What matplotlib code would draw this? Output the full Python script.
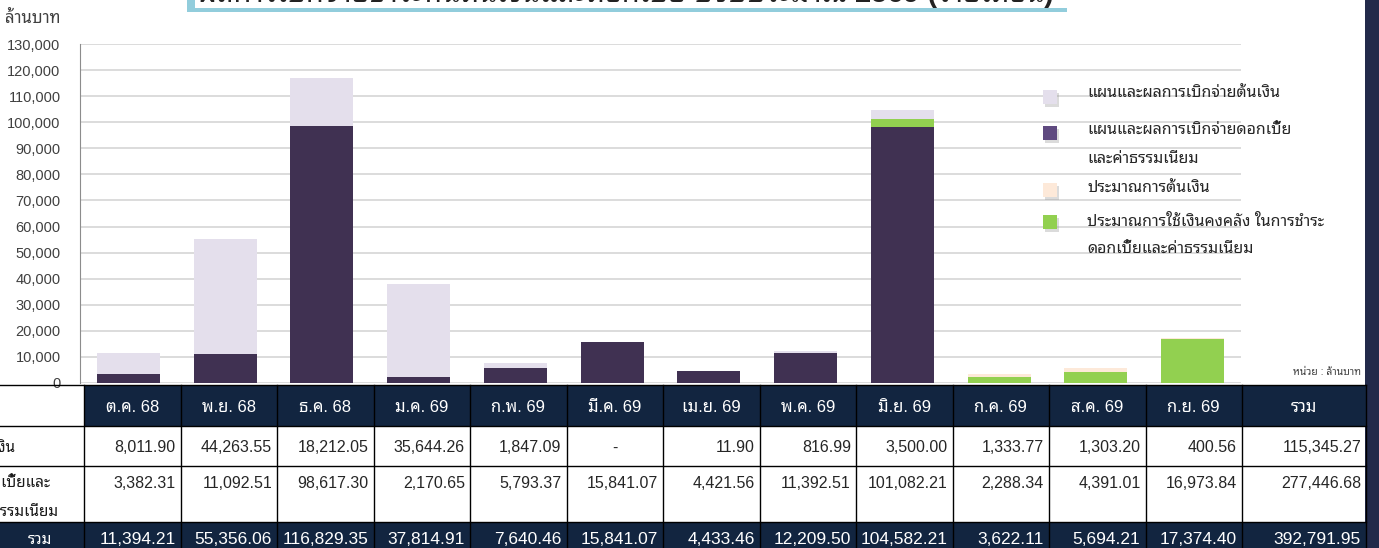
import numpy as np
import matplotlib
matplotlib.use('Agg')
from matplotlib import pyplot as plt
from matplotlib import font_manager
from matplotlib.ft2font import FT2Font
from matplotlib.patches import Rectangle
from matplotlib.ticker import FuncFormatter

# find a font that has Thai glyphs
def find_thai_font():
    prefer = ['Tahoma', 'Leelawadee', 'Noto Sans Thai', 'Sarabun', 'Loma', 'Garuda', 'Kinnari', 'Norasi']
    found = []
    for f in font_manager.fontManager.ttflist:
        try:
            cm = FT2Font(f.fname).get_charmap()
        except Exception:
            continue
        if 0x0E01 in cm:
            found.append(f.name)
    for p in prefer:
        for n in found:
            if p.lower() in n.lower():
                return n
    return found[0] if found else 'DejaVu Sans'

thai = find_thai_font()
# latin / digits in an Arial-like face, Thai glyphs from the Thai font
plt.rcParams['font.family'] = ['Liberation Sans', thai, 'DejaVu Sans']

# data (million baht)
months = ['ต.ค. 68', 'พ.ย. 68', 'ธ.ค. 68', 'ม.ค. 69', 'ก.พ. 69', 'มี.ค. 69',
          'เม.ย. 69', 'พ.ค. 69', 'มิ.ย. 69', 'ก.ค. 69', 'ส.ค. 69', 'ก.ย. 69']

principal = [8011.90, 44263.55, 18212.05, 35644.26, 1847.09, 0.0,
             11.90, 816.99, 3500.00, 1333.77, 1303.20, 400.56]
interest = [3382.31, 11092.51, 98617.30, 2170.65, 5793.37, 15841.07,
            4421.56, 11392.51, 101082.21, 2288.34, 4391.01, 16973.84]

# bar series
plan_interest = [3382.31, 11092.51, 98617.30, 2170.65, 5793.37, 15841.07,
                 4421.56, 11392.51, 98000.0, 0, 0, 0]
est_interest = [0, 0, 0, 0, 0, 0, 0, 0, 3082.21, 2288.34, 4391.01, 16973.84]
plan_principal = [8011.90, 44263.55, 18212.05, 35644.26, 1847.09, 0.0,
                  11.90, 816.99, 3500.00, 0, 0, 0]
est_principal = [0, 0, 0, 0, 0, 0, 0, 0, 0, 1333.77, 1303.20, 400.56]

labels = ['แผนและผลการเบิกจ่ายต้นเงิน',
          'แผนและผลการเบิกจ่ายดอกเบี้ย\nและค่าธรรมเนียม',
          'ประมาณการต้นเงิน',
          'ประมาณการใช้เงินคงคลัง ในการชำระ\nดอกเบี้ยและค่าธรรมเนียม']

title = 'ผลการเบิกจ่ายชำระหนี้ต้นเงินและดอกเบี้ย ปีงบประมาณ 2569 (รายเดือน)'

c_dark = '#403152'
c_light = '#e4dfec'
c_green = '#92d050'
c_peach = '#fde9d9'
c_navy = '#122540'

W, H = 1379, 548
fig = plt.figure(figsize=(W / 100, H / 100), dpi=100)

ax = fig.add_axes([80 / W, (H - 383) / H, 1161 / W, 339 / H])
x = np.arange(len(months))
w = 0.65
b1 = np.array(plan_interest)
b2 = b1 + np.array(est_interest)
b3 = b2 + np.array(plan_principal)
ax.bar(x, plan_interest, w, color=c_dark, zorder=3)
ax.bar(x, est_interest, w, bottom=b1, color=c_green, zorder=3)
ax.bar(x, plan_principal, w, bottom=b2, color=c_light, zorder=3)
ax.bar(x, est_principal, w, bottom=b3, color=c_peach, zorder=3)

ax.set_xlim(-0.5, 11.5)
ax.set_ylim(0, 130000)
ax.set_yticks(np.arange(0, 130001, 10000))
ax.yaxis.set_major_formatter(FuncFormatter(lambda v, p: f'{int(v):,}'))
ax.tick_params(axis='y', length=0, pad=14, labelsize=10.5, labelcolor='#404040')
ax.set_xticks([])
ax.grid(axis='y', color='#d9d9d9', lw=1.3, zorder=0)
for s in ['top', 'right', 'bottom']:
    ax.spines[s].set_visible(False)
ax.spines['left'].set_color('#8c8c8c')

# overlay in pixel coordinates
ov = fig.add_axes([0, 0, 1, 1])
ov.set_xlim(0, W)
ov.set_ylim(H, 0)
ov.axis('off')

# title box (cut at the top of the picture, as in the source)
ov.add_patch(Rectangle((187, -5), 8, 17, color='#92cddc', lw=0))
ov.add_patch(Rectangle((187, 8), 880, 4, color='#92cddc', lw=0))
t = ov.text(198, 2.5, title, fontsize=20, fontweight='bold', color='#222222',
            va='baseline', ha='left')
r = fig.canvas.get_renderer()
tw = t.get_window_extent(r).width
t.set_fontsize(20 * 858 / tw)

# right dark band
ov.add_patch(Rectangle((1365, 0), 14, H, color='#222a4a', lw=0))

ov.text(5, 18, 'ล้านบาท', fontsize=12, color='#404040', va='center', ha='left')
ov.text(1361, 372, 'หน่วย : ล้านบาท', fontsize=7.5, color='#404040', va='center', ha='right')

# legend
leg_cols = [c_light, '#5f4a80', c_peach, c_green]
leg_y = [97, 133, 190, 222]
txt_y = [93, 130, 188, 221]
for c, my, ty, lab in zip(leg_cols, leg_y, txt_y, labels):
    ov.add_patch(Rectangle((1045, my - 4), 14, 14, color='#9a9a9a', alpha=0.35, lw=0))
    ov.add_patch(Rectangle((1043, my - 7), 14, 14, color=c, lw=0))
    for k, ln in enumerate(lab.split('\n')):
        ov.text(1087, ty + k * 28, ln, fontsize=11.5, color='#262626', va='center', ha='left')

# table
edges = [84 + i * 96.5 for i in range(13)] + [1366]
rows_y = [385, 426, 466, 522, 560]
ov.add_patch(Rectangle((edges[0], rows_y[0]), edges[-1] - edges[0], rows_y[1] - rows_y[0],
                       color=c_navy, lw=0))
ov.add_patch(Rectangle((-5, rows_y[3]), edges[-1] + 5, rows_y[4] - rows_y[3], color=c_navy, lw=0))

for e in edges:
    ov.plot([e, e], [rows_y[0], H], color='black', lw=1)
for yy in rows_y[:4]:
    ov.plot([-5, edges[-1]], [yy, yy], color='black', lw=1)

tot_p = round(sum(principal), 2)
tot_i = round(sum(interest), 2)
col_tot = [p + i for p, i in zip(principal, interest)]

def fmt(v):
    return '-' if v == 0 else f'{v:,.2f}'

heads = months + ['รวม']
row1 = [fmt(v) for v in principal] + [fmt(tot_p)]
row2 = [fmt(v) for v in interest] + [fmt(tot_i)]
row3 = [fmt(v) for v in col_tot] + [fmt(tot_p + tot_i)]

for j in range(13):
    l, rr = edges[j], edges[j + 1]
    cx = (l + rr) / 2
    ov.text(cx, 407, heads[j], fontsize=12, color='white', ha='center', va='center')
    if row1[j] == '-':
        ov.text(cx, 448, row1[j], fontsize=11.5, color='#262626', ha='center', va='center')
    else:
        ov.text(rr - 5, 448, row1[j], fontsize=11.5, color='#262626', ha='right', va='center')
    ov.text(rr - 5, 484, row2[j], fontsize=11.5, color='#262626', ha='right', va='center')
    ov.text(rr - 5, 540, row3[j], fontsize=12.5, color='white', ha='right', va='center')

# row labels, cut at the left edge like the source slide
ov.text(-27, 448, 'ต้นเงิน', fontsize=11, fontweight='bold', color='#1a1a1a', ha='left', va='center')
ov.text(-27, 484, 'ดอกเบี้ยและ', fontsize=11, fontweight='bold', color='#1a1a1a', ha='left', va='center')
ov.text(-25, 512, 'ค่าธรรมเนียม', fontsize=11, fontweight='bold', color='#1a1a1a', ha='left', va='center')
ov.text(40, 540, 'รวม', fontsize=11, color='white', ha='center', va='center')

fig.savefig('out.png', dpi=100)
